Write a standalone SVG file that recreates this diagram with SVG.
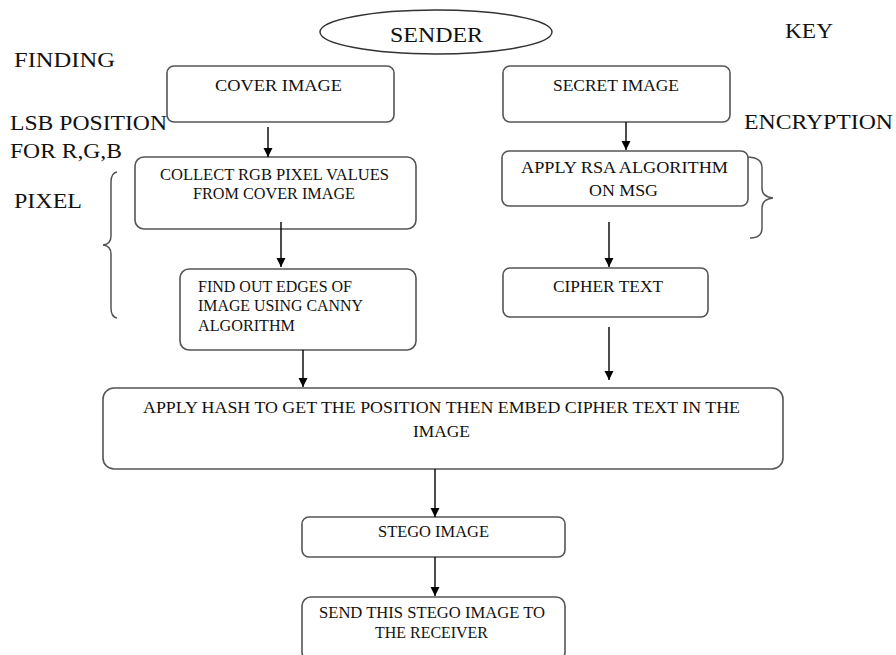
<svg xmlns="http://www.w3.org/2000/svg" width="896" height="655" viewBox="0 0 896 655">
<style>
text{font-family:"Liberation Serif","Times New Roman",serif;fill:#111}
.box{fill:#fff;stroke:#555;stroke-width:1.6}
.big{font-size:22px}
.t{font-size:17px}
.c{stroke:#000;stroke-width:1.4;fill:none}
.br{stroke:#555;stroke-width:1.5;fill:none}
</style>
<defs>
<marker id="ah" viewBox="0 0 10 10" refX="10" refY="5" markerWidth="9" markerHeight="10" markerUnits="userSpaceOnUse" orient="auto">
<path d="M0,0 L10,5 L0,10 z" fill="#000"/>
</marker>
</defs>
<rect width="896" height="655" fill="#fff"/>

<g id="sender">
<ellipse cx="436" cy="32" rx="116" ry="22" fill="#fff" stroke="#333" stroke-width="1.4"/>
<text class="big" x="390" y="42" textLength="93" lengthAdjust="spacingAndGlyphs">SENDER</text>
</g>

<g id="labels">
<text class="big" x="785" y="38" textLength="48" lengthAdjust="spacingAndGlyphs">KEY</text>
<text class="big" x="14" y="67" textLength="101" lengthAdjust="spacingAndGlyphs">FINDING</text>
<text class="big" x="10" y="130" textLength="157" lengthAdjust="spacingAndGlyphs">LSB POSITION</text>
<text class="big" x="10" y="158" textLength="112" lengthAdjust="spacingAndGlyphs">FOR R,G,B</text>
<text class="big" x="14" y="208" textLength="68" lengthAdjust="spacingAndGlyphs">PIXEL</text>
<text class="big" x="744" y="129" textLength="149" lengthAdjust="spacingAndGlyphs">ENCRYPTION</text>
<path class="br" d="M117,172 Q111,173 111,182 L111,236 Q111,244 103,245 Q111,246 111,254 L111,308 Q111,317 117,318"/>
<path class="br" d="M747,157 Q762,157 762,168 L762,188 Q762,197 773,198 Q762,199 762,208 L762,228 Q762,238 750,238"/>
</g>

<g id="cover">
<rect class="box" x="167" y="66" width="227" height="56" rx="7"/>
<text class="t" x="215" y="91" textLength="127" lengthAdjust="spacingAndGlyphs">COVER IMAGE</text>
</g>
<g id="secret">
<rect class="box" x="503" y="66" width="227" height="56" rx="7"/>
<text class="t" x="553" y="91" textLength="126" lengthAdjust="spacingAndGlyphs">SECRET IMAGE</text>
</g>
<g id="collect">
<rect class="box" x="135" y="157" width="281" height="72" rx="9"/>
<text class="t" x="160" y="180" textLength="229" lengthAdjust="spacingAndGlyphs">COLLECT RGB PIXEL VALUES</text>
<text class="t" x="193" y="199" textLength="162" lengthAdjust="spacingAndGlyphs">FROM COVER IMAGE</text>
</g>
<g id="edges">
<rect class="box" x="180" y="269" width="236" height="81" rx="9"/>
<text class="t" x="198" y="292" textLength="154" lengthAdjust="spacingAndGlyphs">FIND OUT EDGES OF</text>
<text class="t" x="198" y="311" textLength="165" lengthAdjust="spacingAndGlyphs">IMAGE USING CANNY</text>
<text class="t" x="198" y="331" textLength="97" lengthAdjust="spacingAndGlyphs">ALGORITHM</text>
</g>
<g id="rsa">
<rect class="box" x="502" y="151" width="246" height="55" rx="7"/>
<text class="t" x="521" y="173" textLength="207" lengthAdjust="spacingAndGlyphs">APPLY RSA ALGORITHM</text>
<text class="t" x="589" y="196" textLength="69" lengthAdjust="spacingAndGlyphs">ON MSG</text>
</g>
<g id="cipher">
<rect class="box" x="503" y="268" width="205" height="49" rx="7"/>
<text class="t" x="553" y="292" textLength="110" lengthAdjust="spacingAndGlyphs">CIPHER TEXT</text>
</g>
<g id="hash">
<rect class="box" x="103" y="388" width="680" height="81" rx="11"/>
<text class="t" x="143" y="413" textLength="597" lengthAdjust="spacingAndGlyphs">APPLY HASH TO GET THE POSITION THEN EMBED CIPHER TEXT IN THE</text>
<text class="t" x="413" y="437" textLength="57" lengthAdjust="spacingAndGlyphs">IMAGE</text>
</g>
<g id="stego">
<rect class="box" x="302" y="517" width="263" height="40" rx="7"/>
<text class="t" x="378" y="537" textLength="111" lengthAdjust="spacingAndGlyphs">STEGO IMAGE</text>
</g>
<g id="send">
<rect class="box" x="302" y="597" width="263" height="64" rx="9"/>
<text class="t" x="319" y="618" textLength="226" lengthAdjust="spacingAndGlyphs">SEND THIS STEGO IMAGE TO</text>
<text class="t" x="375" y="638" textLength="113" lengthAdjust="spacingAndGlyphs">THE RECEIVER</text>
</g>

<g id="connectors">
<line class="c" x1="268" y1="127" x2="268" y2="157" marker-end="url(#ah)"/>
<line class="c" x1="281" y1="222" x2="281" y2="267" marker-end="url(#ah)"/>
<line class="c" x1="303" y1="350" x2="303" y2="387" marker-end="url(#ah)"/>
<line class="c" x1="626" y1="122" x2="626" y2="150" marker-end="url(#ah)"/>
<line class="c" x1="609" y1="222" x2="609" y2="267" marker-end="url(#ah)"/>
<line class="c" x1="609" y1="327" x2="609" y2="380" marker-end="url(#ah)"/>
<line class="c" x1="435" y1="469" x2="435" y2="517" marker-end="url(#ah)"/>
<line class="c" x1="435" y1="557" x2="435" y2="596" marker-end="url(#ah)"/>
</g>
</svg>
